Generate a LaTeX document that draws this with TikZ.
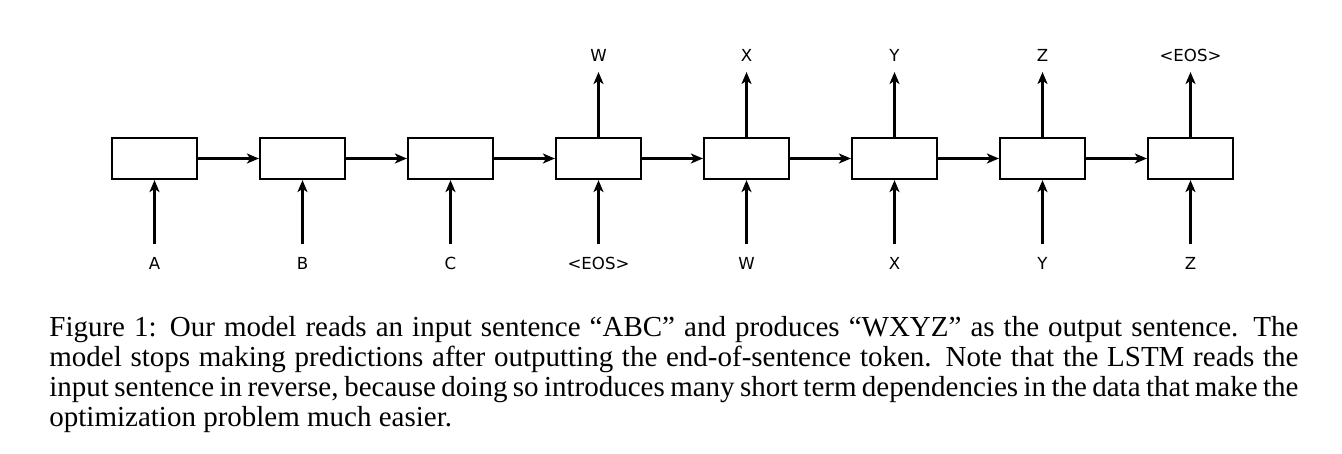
\documentclass[tikz,border=0pt]{standalone}
\usepackage{fontspec}
\setmainfont{Liberation Serif}
\newfontfamily\labfont{DejaVu Sans}
\usetikzlibrary{arrows.meta}
\begin{document}
\begin{tikzpicture}[x=0.5pt,y=-0.5pt,
  cell/.style={draw, line width=1.1pt, minimum width=42.5pt, minimum height=20.5pt, inner sep=0pt},
  lab/.style={font=\labfont\fontsize{8.3}{9}\selectfont, inner sep=0pt, anchor=base},
  arr/.style={line width=1.1pt, -{Stealth[length=6pt,width=5pt,inset=1.6pt]}}]
\useasboundingbox (0,0) rectangle (1342,454);
\foreach \i/\t in {1/A,2/B,3/C,4/{<EOS>},5/W,6/X,7/Y,8/Z}{
  \pgfmathsetmacro{\xx}{154.5+148*(\i-1)}
  \node[cell] (c\i) at (\xx,158.5) {};
  \coordinate (b\i) at (\xx,244);
  \node[lab] (in\i) at (\xx,269.5) {\t};
  \draw[arr] (b\i) -- (c\i.south);
}
\foreach \i/\t in {4/W,5/X,6/Y,7/Z,8/{<EOS>}}{
  \pgfmathsetmacro{\xx}{154.5+148*(\i-1)}
  \coordinate (t\i) at (\xx,72);
  \node[lab] (out\i) at (\xx,62) {\t};
  \draw[arr] (c\i.north) -- (t\i);
}
\foreach \i [evaluate=\i as \j using int(\i+1)] in {1,...,7}{
  \draw[arr] (c\i.east) -- (c\j.west);
}
\node[anchor=north west, inner sep=0pt, text width=624.5pt, align=justify,
  font=\fontsize{14.5}{15}\selectfont] (cap) at (49,316)
  {Figure 1: Our model reads an input sentence “ABC” and produces “WXYZ” as the output sentence. The\linebreak{} model stops making predictions after outputting the end-of-sentence token. Note that the LSTM reads the\linebreak{} input sentence in reverse, because doing so introduces many short term dependencies in the data that make the\linebreak{} optimization problem much easier.};
\end{tikzpicture}
\end{document}
